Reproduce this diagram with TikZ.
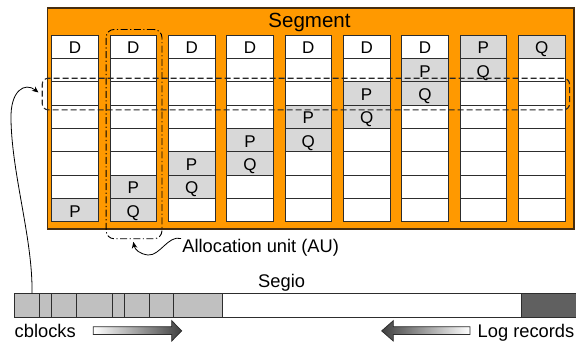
\documentclass[tikz,border=0pt]{standalone}
\usepackage{fontspec}
\setmainfont{Liberation Sans}
\usetikzlibrary{arrows.meta,shadings}

\definecolor{segorange}{RGB}{255,153,0}
\definecolor{segedge}{RGB}{70,45,15}
\definecolor{celledge}{RGB}{45,45,45}
\definecolor{paritygray}{RGB}{216,216,216}
\definecolor{blockgray}{RGB}{192,192,192}
\definecolor{loggray}{RGB}{96,96,96}
\definecolor{arrowdark}{RGB}{64,64,64}

\begin{document}
\begin{tikzpicture}[x=1pt,y=-1pt,
  cellbox/.style={draw=celledge, line width=0.9pt, fill=white,
    minimum width=46.7pt, minimum height=23.3pt, inner sep=0pt,
    text height=14.6pt, text depth=0pt, font=\fontsize{17}{19}\selectfont},
  paritybox/.style={cellbox, fill=paritygray},
  labeltext/.style={inner sep=0pt, font=\fontsize{18.3}{21}\selectfont},
  rowmark/.style={draw=black!85, line width=1.1pt, dash pattern=on 6pt off 3pt,
    rounded corners=6pt, inner sep=0pt, anchor=north west},
  aumark/.style={draw=black, line width=0.9pt,
    dash pattern=on 7pt off 2.5pt on 1.2pt off 2.5pt,
    rounded corners=8pt, inner sep=0pt, anchor=north west},
  pointer/.style={draw=black, line width=0.8pt, -{Stealth[length=6.5pt,width=5.5pt]}},
  blockcell/.style={draw=celledge, line width=0.8pt, fill=blockgray},
  flowarrow/.style={draw=celledge, line width=0.8pt}
]
\useasboundingbox (0,0) rectangle (576,343);

% the segment
\node[draw=segedge, line width=1.4pt, fill=segorange, anchor=north west,
      minimum width=526.6pt, minimum height=221pt, inner sep=0pt]
      (segbox) at (46.7,7.3) {};
\node[anchor=base, inner sep=0pt, font=\fontsize{20.5}{24}\selectfont]
      (segtitle) at (309.5,27.3) {Segment};

% empty cells, 9 columns of 8 rows
\foreach \i in {0,...,8}
  \foreach \j in {0,...,7}
    \node[cellbox] (c-\i-\j) at ({75+58.33*\i},{46.67+23.33*\j}) {};

% data cells
\foreach \i in {0,...,6}
  \node[cellbox] (d-\i) at (c-\i-0) {D};

% parity cells P and Q
\foreach \i/\j/\t in {0/7/P, 1/6/P, 1/7/Q, 2/5/P, 2/6/Q, 3/4/P, 3/5/Q,
                      4/3/P, 4/4/Q, 5/2/P, 5/3/Q, 6/1/P, 6/2/Q,
                      7/0/P, 7/1/Q, 8/0/Q}
  \node[paritybox] (p-\i-\j) at (c-\i-\j) {\t};

% one row across all columns
\node[rowmark, minimum width=527.3pt, minimum height=31.6pt]
      (rowsel) at (41.7,77.7) {};

% allocation unit column
\node[aumark, minimum width=55.8pt, minimum height=209.3pt]
      (ausel) at (105.7,29) {};

% allocation unit label and pointer
\node[labeltext, anchor=base west] (aulabel) at (182.2,252.7) {Allocation unit (AU)};
\coordinate (au-from) at (181,238.5);
\coordinate (au-to) at (133.3,241.8);
\draw[pointer] (au-from) .. controls (168,235) and (160,256) .. (148,255)
               .. controls (140,254) and (135,250) .. (au-to);

% segio bar
\node[labeltext, anchor=base west] (segiolabel) at (258,287.3) {Segio};
\draw[draw=celledge, line width=0.8pt, fill=white] (222.3,293.3) rectangle (521,317.7);
\draw[draw=celledge, line width=0.8pt, fill=loggray] (521,293.3) rectangle (577,317.7);
\foreach \a/\b in {14/39.3, 39.3/51.7, 51.7/76.7, 76.7/112.7, 112.7/124,
                   124/149, 149/173.3, 173.3/222.3}
  \draw[blockcell] (\a,293.3) rectangle (\b,317.7);

% pointer from the bar to the selected row
\coordinate (bar-top) at (32,293.3);
\coordinate (row-in) at (38.5,92.5);
\draw[pointer] (bar-top) .. controls (33,240) and (12,175) .. (11,120)
               .. controls (10,90) and (25,82) .. (row-in);

% growth directions
\node[labeltext, anchor=base west] (cblocks) at (14.5,337) {cblocks};
\shade[flowarrow, left color=white, right color=arrowdark]
  (93.3,326.7) -- (171.7,326.7) -- (171.7,320.7) -- (181.7,330.9)
  -- (171.7,341) -- (171.7,334.5) -- (93.3,334.5) -- cycle;

\node[labeltext, anchor=base west] (logrec) at (477.5,337) {Log records};
\shade[flowarrow, left color=arrowdark, right color=white]
  (470,326.7) -- (393.3,326.7) -- (393.3,320.7) -- (381.7,330.9)
  -- (393.3,341) -- (393.3,334.5) -- (470,334.5) -- cycle;
\end{tikzpicture}
\end{document}
